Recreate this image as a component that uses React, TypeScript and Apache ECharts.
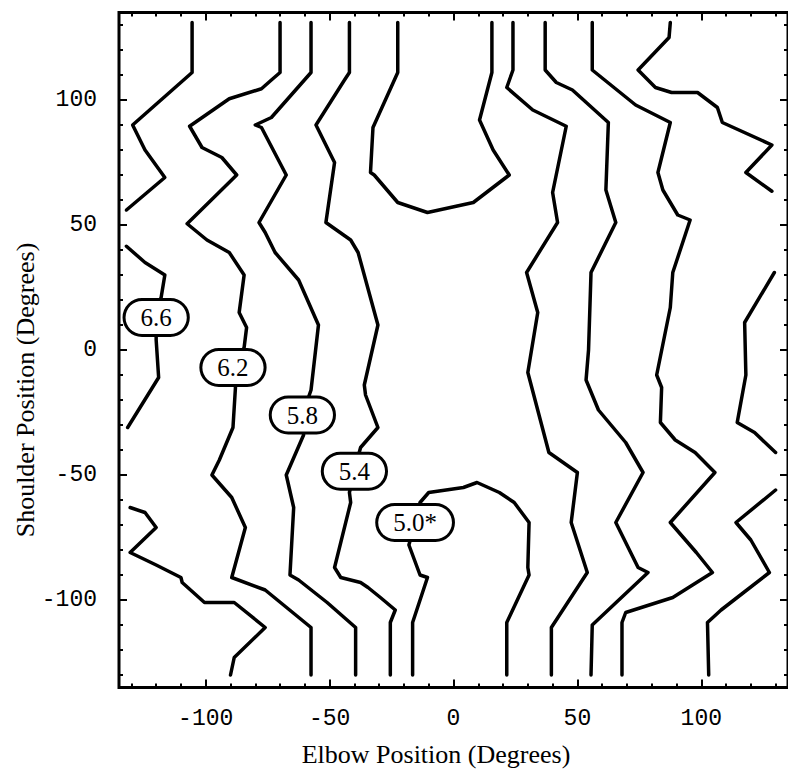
import React, { useEffect, useRef } from "react";
import * as echarts from "echarts";

// Axis ticks (degrees)
const majorTicks = [-100, -50, 0, 50, 100];
const minorTicks = [-130, -120, -110, -100, -90, -80, -70, -60, -50, -40, -30, -20, -10, 0, 10, 20, 30, 40, 50, 60, 70, 80, 90, 100, 110, 120, 130];

// Contour polylines: [elbow, shoulder] in degrees
const c66a = [[-105.5, 131], [-105.5, 111], [-113.5, 104], [-129.5, 90], [-124.5, 80], [-116.5, 69], [-132, 56]];
const c66b = [[-132, 41.5], [-124.5, 35], [-116.5, 30], [-118, 21], [-120, 13], [-120, 4], [-119, -11], [-131.5, -31]];
const c66c = [[-130.5, -63], [-124.5, -65], [-120, -71], [-130.5, -81], [-120, -86], [-110, -91], [-109.5, -93], [-100.5, -101], [-88.5, -101], [-76, -111], [-88.5, -123], [-90, -130]];
const c62 = [[-70, 131], [-70, 111], [-73.5, 108], [-77.5, 104.5], [-90.5, 100.5], [-106.5, 89.5], [-101.5, 81], [-93.5, 77], [-87.5, 70], [-107.5, 50.5], [-99.5, 44], [-90.5, 39], [-84.5, 30], [-86.5, 15], [-83.5, 9], [-84.5, 1], [-89, -7], [-88, -15], [-89, -31], [-94.5, -44], [-97.5, -50], [-89.5, -59], [-84, -71], [-89.5, -91], [-76, -96], [-57.5, -111], [-57.5, -130]];
const c58 = [[-57.5, 131], [-57.5, 111], [-73.5, 93], [-80, 90], [-77.5, 89], [-67.5, 70], [-78.5, 51], [-76, 47], [-72, 39], [-62.5, 28], [-54.5, 10], [-57.5, -16], [-61, -26], [-60.5, -34], [-67.5, -50], [-64.5, -63], [-66, -90], [-62.5, -92], [-51, -101], [-39.5, -111], [-39.5, -130]];
const c54 = [[-42, 131], [-42, 111], [-44, 108], [-55.5, 90], [-48, 75], [-51.5, 51], [-41.5, 44], [-38.5, 39], [-30.5, 10], [-36, -14], [-35.5, -18], [-30.5, -31], [-37.5, -39], [-40, -48], [-42, -57], [-41.5, -61], [-48, -87], [-45.5, -91], [-37.5, -93], [-34.5, -95], [-29.5, -99], [-23.5, -104], [-25.5, -109], [-25.5, -130]];
const c50top = [[-22.5, 131], [-22.5, 111], [-32.5, 89], [-33.5, 71], [-32, 70], [-22.5, 59], [-10.5, 55], [8, 59], [22.5, 70], [16, 80], [10.5, 92], [15.5, 111], [15.5, 131]];
const c50low = [[-16.5, -130], [-16.5, -109], [-10.5, -91], [-13.5, -90], [-18, -78], [-15.5, -69], [-13.5, -61], [-10, -57], [4, -55], [9.5, -53], [18.5, -57], [24.5, -61], [30.5, -69], [30, -87], [30.5, -90], [21.5, -109], [21.5, -130]];
const r54 = [[24, 131], [24, 112], [21.5, 105], [32, 96], [45.5, 89.5], [40, 63], [42, 51], [29.5, 31], [34, 15], [30, -9], [38.5, -41], [50, -49], [47.5, -69], [54, -89], [39.5, -111], [39.5, -130]];
const r58 = [[37, 131], [37, 112], [41.5, 107], [48, 104], [62.5, 91], [61.5, 64], [65.5, 51], [55.5, 31], [54.5, 0], [53.5, -12], [58.5, -24], [69.5, -37], [76.5, -49], [65.5, -69], [74.5, -87], [78.5, -89], [56, -110], [55.5, -130]];
const r62 = [[56, 131], [56, 112], [73.5, 98], [87.5, 91], [82.5, 71], [84.5, 64], [90.5, 54], [95.5, 52], [88.5, 31], [87.5, 17], [82, -10], [84, -15], [83.5, -29], [89.5, -36], [97.5, -41], [105.5, -49], [87.5, -69], [98, -81], [104.5, -89], [88.5, -99], [69.5, -105], [68, -109], [68, -130]];
const r66a = [[87.5, 131], [87, 125], [74.5, 112], [81.5, 105], [88, 103], [98.5, 103], [106.5, 97], [108.5, 91], [128.5, 82], [118, 71], [128.5, 63.5]];
const r66b = [[129.5, 31], [117.5, 11], [118, -10], [114.5, -29], [121.5, -33], [130, -41]];
const r66c = [[130, -56], [114, -69], [120, -76], [127.5, -89], [114.5, -99], [108, -104], [102.5, -109], [103, -130]];

const contours = [c66a, c66b, c66c, c62, c58, c54, c50top, c50low, r54, r58, r62, r66a, r66b, r66c];

// Contour level labels
const labelTexts = ["6.6", "6.2", "5.8", "5.4", "5.0*"];
const labelElbow = [-120, -89, -61, -40, -15.5];
const labelShoulder = [13, -7, -26, -48.5, -69];

const xTitle = "Elbow Position (Degrees)";
const yTitle = "Shoulder Position (Degrees)";

export default function App() {
  const ref = useRef<HTMLDivElement>(null);
  useEffect(() => {
    if (!ref.current) return;
    const chart = echarts.init(ref.current, null, { renderer: "svg" });
    const mono = "Liberation Mono";
    const serif = "Liberation Serif";
    const mkAxis = (pos: string, major: boolean, labelSide: string, margin: number) => ({
      type: "value",
      position: pos,
      min: -135,
      max: 135,
      axisLine: { show: false, onZero: false },
      splitLine: { show: false },
      axisTick: {
        show: true,
        inside: true,
        length: major ? 8 : 4,
        customValues: major ? majorTicks : minorTicks,
        lineStyle: { color: "#000", width: 2 },
      },
      axisLabel: {
        show: major && pos === labelSide,
        customValues: majorTicks,
        margin,
        fontFamily: mono,
        fontSize: 23,
        color: "#000",
      },
    });
    const lineSeries = contours.map((pts) => ({
      type: "line",
      xAxisIndex: 0,
      yAxisIndex: 0,
      data: pts,
      showSymbol: false,
      symbol: "none",
      smooth: false,
      clip: true,
      lineStyle: { color: "#000", width: 3.5, join: "round", cap: "round" },
      z: 2,
      silent: true,
    }));
    const labelData = labelTexts.map((t, i) => ({ name: t, value: [labelElbow[i], labelShoulder[i]] }));
    chart.setOption({
      animation: false,
      backgroundColor: "#fff",
      grid: {
        left: 119,
        top: 12.5,
        width: 675,
        height: 675,
        show: true,
        borderWidth: 3,
        borderColor: "#000",
        backgroundColor: "transparent",
        containLabel: false,
      },
      xAxis: [
        mkAxis("bottom", true, "bottom", 20),
        mkAxis("bottom", false, "bottom", 20),
        mkAxis("top", true, "bottom", 20),
        mkAxis("top", false, "bottom", 20),
      ],
      yAxis: [
        mkAxis("left", true, "left", 22),
        mkAxis("left", false, "left", 22),
        mkAxis("right", true, "left", 22),
        mkAxis("right", false, "left", 22),
      ],
      series: [
        ...lineSeries,
        {
          type: "scatter",
          xAxisIndex: 0,
          yAxisIndex: 0,
          data: labelData,
          symbolSize: 1,
          silent: true,
          z: 5,
          itemStyle: { color: "transparent", opacity: 1 },
          label: {
            show: true,
            position: "inside",
            formatter: (p: any) => p.name,
            fontFamily: serif,
            fontSize: 25,
            color: "#000",
            opacity: 1,
            textBorderWidth: 0,
            textBorderColor: "transparent",
            textShadowBlur: 0,
            backgroundColor: "#fff",
            borderColor: "#000",
            borderWidth: 3,
            borderRadius: 17,
            padding: [5, 15, 3, 15],
          },
        },
      ],
      graphic: [
        {
          type: "text",
          x: 436,
          y: 754,
          style: {
            text: xTitle,
            font: `26px "${serif}"`,
            fill: "#000",
            align: "center",
            verticalAlign: "middle",
          },
        },
        {
          type: "text",
          x: 25,
          y: 390,
          rotation: Math.PI / 2,
          style: {
            text: yTitle,
            font: `26px "${serif}"`,
            fill: "#000",
            align: "center",
            verticalAlign: "middle",
          },
        },
      ],
    });
    return () => chart.dispose();
  }, []);
  return (
    <div
      ref={ref}
      style={{ position: "absolute", left: 0, top: 0, width: 788, height: 773, background: "#fff" }}
    />
  );
}
